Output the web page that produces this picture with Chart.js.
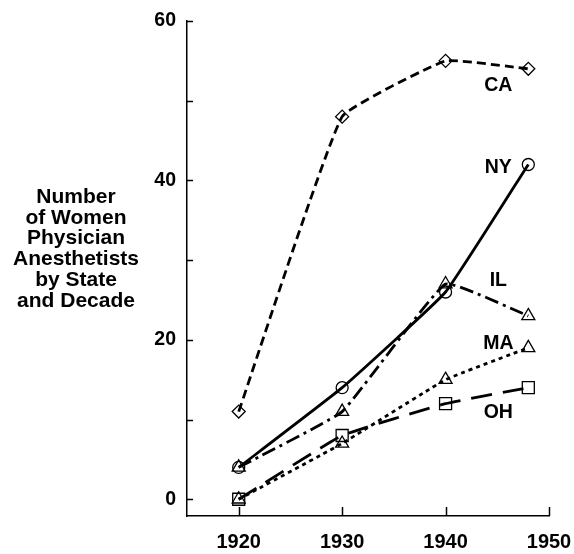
<!DOCTYPE html>
<html><head><meta charset="utf-8">
<script src="https://cdn.jsdelivr.net/npm/chart.js@4"></script>
<style>html,body{margin:0;padding:0;background:#fff}</style>
</head><body>
<canvas id="c" width="574" height="554"></canvas>
<script>
// ---- data ----
const decades = [1920, 1930, 1940, 1948];
const CA = [11, 48, 55, 54];
const NY = [4, 14, 26, 42];
const IL = [4, 11, 27, 23];
const MA = [0, 7, 15, 19];
const OH = [0, 8, 12, 14];
const xTickLabels = [1920, 1930, 1940, 1950];
const yTickLabels = [0, 20, 40, 60];
const yMinorTicks = [10, 30, 50];
const titleLines = ['Number', 'of Women', 'Physician', 'Anesthetists', 'by State', 'and Decade'];

// ---- series labels (placed in data space) ----
const seriesLabels = [
  { text: 'CA', x: 1945.1, y: 51.9 },
  { text: 'NY', x: 1945.1, y: 41.6 },
  { text: 'IL', x: 1945.1, y: 27.4 },
  { text: 'MA', x: 1945.1, y: 19.5 },
  { text: 'OH', x: 1945.1, y: 10.9 }
];

const FONT = '"Liberation Sans", Arial, Helvetica, sans-serif';
const pts = arr => decades.map((d, i) => ({ x: d, y: arr[i] }));
const radii = { triangle: 7.5, circle: 6, rectRot: 6.5, rect: 8.5 };

function ds(label, arr, style, dash) {
  return {
    label, data: pts(arr),
    borderColor: '#000', borderWidth: 2.8, borderDash: dash,
    pointStyle: style, pointRadius: radii[style],
    pointBorderWidth: 1.3, pointBorderColor: '#000',
    pointBackgroundColor: 'rgba(255,255,255,0)',
    tension: 0.1, fill: false
  };
}

const decor = {
  id: 'decor',
  afterDraw(chart) {
    const ctx = chart.ctx, xs = chart.scales.x, ys = chart.scales.y, a = chart.chartArea;
    ctx.save();
    ctx.strokeStyle = '#000'; ctx.lineWidth = 1.5;
    const yt = yTickLabels.concat(yMinorTicks);
    yt.forEach(v => {
      const py = Math.round(ys.getPixelForValue(v)) + 0.5;
      ctx.beginPath(); ctx.moveTo(a.left, py); ctx.lineTo(a.left + 6, py); ctx.stroke();
    });
    xTickLabels.forEach(v => {
      const px = Math.round(xs.getPixelForValue(v)) + 0.5;
      ctx.beginPath(); ctx.moveTo(px, a.bottom); ctx.lineTo(px, a.bottom - 9); ctx.stroke();
    });
    ctx.fillStyle = '#000';
    ctx.textAlign = 'center'; ctx.textBaseline = 'middle';
    ctx.font = 'bold 19.5px ' + FONT;
    seriesLabels.forEach(l => {
      ctx.fillText(l.text, xs.getPixelForValue(l.x), ys.getPixelForValue(l.y));
    });
    ctx.font = 'bold 21px ' + FONT;
    titleLines.forEach((t, i) => ctx.fillText(t, 76, 197 + i * 20.8));
    ctx.restore();
  }
};

new Chart(document.getElementById('c'), {
  type: 'line',
  data: {
    datasets: [
      ds('CA', CA, 'rectRot', [9, 5]),
      ds('NY', NY, 'circle', []),
      ds('IL', IL, 'triangle', [14, 5, 3, 5]),
      ds('MA', MA, 'triangle', [4, 4]),
      ds('OH', OH, 'rect', [21, 11])
    ]
  },
  options: {
    responsive: false, animation: false, devicePixelRatio: 1,
    layout: { padding: { top: 21, right: 25, left: 0, bottom: 0 } },
    plugins: { legend: { display: false }, tooltip: { enabled: false } },
    scales: {
      x: {
        type: 'linear', min: 1915, max: 1950,
        afterBuildTicks: s => { s.ticks = xTickLabels.map(v => ({ value: v })); },
        afterFit: s => { s.height = 38; s.paddingRight = 0; s.paddingLeft = 0; },
        grid: { display: false, drawTicks: false },
        border: { display: true, color: '#000', width: 1.5 },
        ticks: { color: '#000', font: { family: FONT, size: 20, weight: 'bold' }, padding: 14,
                 callback: v => String(v), maxRotation: 0 }
      },
      y: {
        type: 'linear', min: -2.1, max: 60,
        afterBuildTicks: s => { s.ticks = yTickLabels.map(v => ({ value: v })); },
        afterFit: s => { s.width = 187; s.paddingTop = 0; s.paddingBottom = 0; },
        grid: { display: false, drawTicks: false },
        border: { display: true, color: '#000', width: 1.5 },
        ticks: { color: '#000', font: { family: FONT, size: 19.5, weight: 'bold' }, padding: 11,
                 callback: v => String(v) }
      }
    }
  },
  plugins: [decor]
});
</script>
</body></html>
